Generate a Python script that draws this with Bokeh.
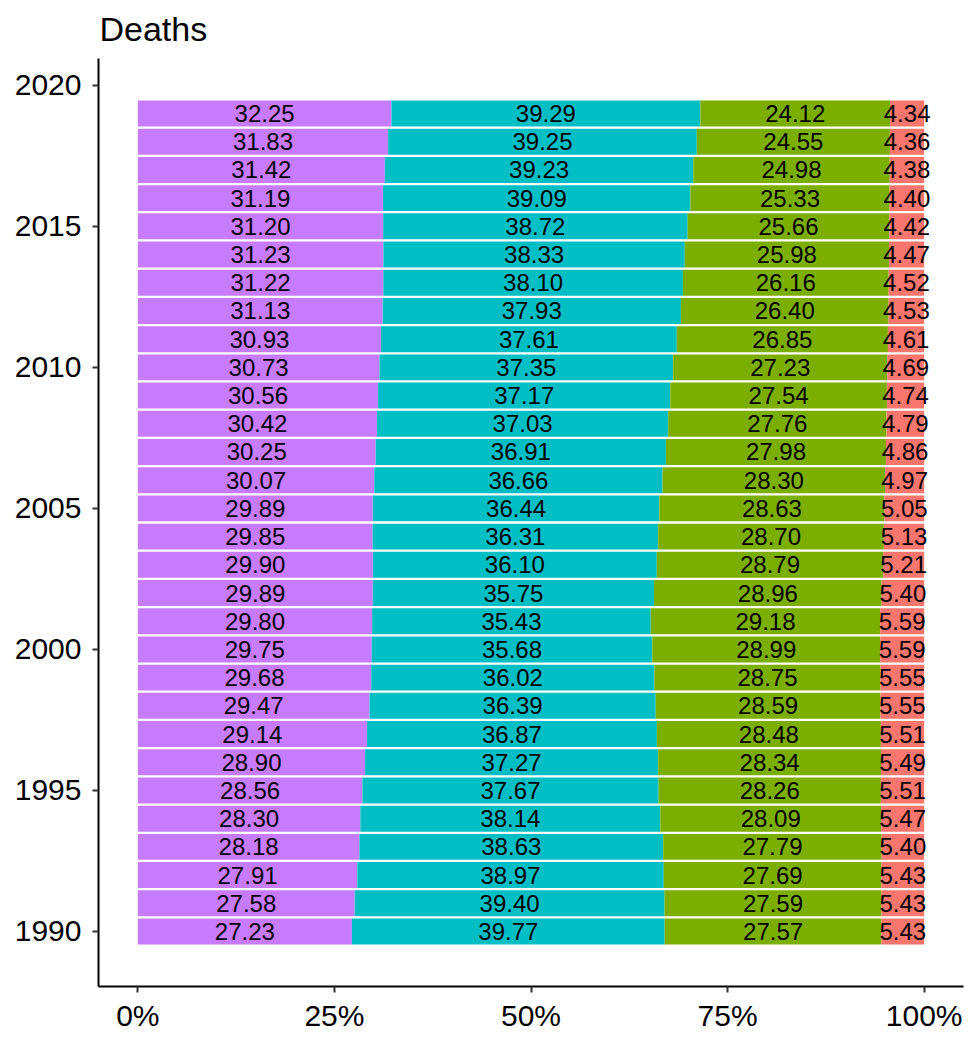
from bokeh.plotting import figure
from bokeh.models import ColumnDataSource, Range1d, FixedTicker
from bokeh.core.properties import value
from bokeh.embed import file_html
from bokeh.resources import INLINE

# ---- data (top bar = 2019, bottom bar = 1990) ----
years = [2019, 2018, 2017, 2016, 2015, 2014, 2013, 2012, 2011, 2010,
         2009, 2008, 2007, 2006, 2005, 2004, 2003, 2002, 2001, 2000,
         1999, 1998, 1997, 1996, 1995, 1994, 1993, 1992, 1991, 1990]

# leftmost segment (purple)
group4 = [32.25, 31.83, 31.42, 31.19, 31.20, 31.23, 31.22, 31.13, 30.93, 30.73,
          30.56, 30.42, 30.25, 30.07, 29.89, 29.85, 29.90, 29.89, 29.80, 29.75,
          29.68, 29.47, 29.14, 28.90, 28.56, 28.30, 28.18, 27.91, 27.58, 27.23]
# second segment (teal)
group3 = [39.29, 39.25, 39.23, 39.09, 38.72, 38.33, 38.10, 37.93, 37.61, 37.35,
          37.17, 37.03, 36.91, 36.66, 36.44, 36.31, 36.10, 35.75, 35.43, 35.68,
          36.02, 36.39, 36.87, 37.27, 37.67, 38.14, 38.63, 38.97, 39.40, 39.77]
# third segment (green)
group2 = [24.12, 24.55, 24.98, 25.33, 25.66, 25.98, 26.16, 26.40, 26.85, 27.23,
          27.54, 27.76, 27.98, 28.30, 28.63, 28.70, 28.79, 28.96, 29.18, 28.99,
          28.75, 28.59, 28.48, 28.34, 28.26, 28.09, 27.79, 27.69, 27.59, 27.57]
# rightmost segment (red)
group1 = [4.34, 4.36, 4.38, 4.40, 4.42, 4.47, 4.52, 4.53, 4.61, 4.69,
          4.74, 4.79, 4.86, 4.97, 5.05, 5.13, 5.21, 5.40, 5.59, 5.59,
          5.55, 5.55, 5.51, 5.49, 5.51, 5.47, 5.40, 5.43, 5.43, 5.43]

x_ticks = [0, 25, 50, 75, 100]
x_tick_labels = ["0%", "25%", "50%", "75%", "100%"]
y_ticks = [1990, 1995, 2000, 2005, 2010, 2015, 2020]
title_text = "Deaths"

series = [("group4", group4, "#C77CFF"),
          ("group3", group3, "#00BFC4"),
          ("group2", group2, "#7CAE00"),
          ("group1", group1, "#F8766D")]

# normalise to 100% (position = fill)
totals = [sum(v) for v in zip(group4, group3, group2, group1)]
data = {"year": years}
starts = [0.0] * len(years)
for name, vals, _ in series:
    share = [v / t * 100 for v, t in zip(vals, totals)]
    data[name + "_left"] = list(starts)
    data[name + "_right"] = [s + w for s, w in zip(starts, share)]
    data[name + "_mid"] = [s + w / 2 for s, w in zip(starts, share)]
    data[name + "_label"] = [f"{v:.2f}" for v in vals]
    starts = data[name + "_right"]
src = ColumnDataSource(data)

FONT = "Liberation Sans"

p = figure(width=966, height=1035,
           x_range=Range1d(-5, 105), y_range=Range1d(1988.05, 2020.95),
           output_backend="svg", toolbar_location=None,
           min_border_left=98, min_border_right=3,
           min_border_top=58, min_border_bottom=49)

for name, _, color in series:
    p.hbar(y="year", left=name + "_left", right=name + "_right", height=0.92,
           fill_color=color, line_color=None, source=src)

for name, _, _ in series:
    p.text(x=name + "_mid", y="year", text=name + "_label", source=src,
           text_align="center", text_baseline="middle",
           text_font=value(FONT), text_font_size="24px", text_color="black")

p.title.text = title_text
p.title.text_font = FONT
p.title.text_font_size = "34px"
p.title.text_font_style = "normal"
p.title.text_color = "black"
p.title.align = "left"
p.title.vertical_align = "top"
p.title.offset = 1
p.title.standoff = 18
p.title.text_line_height = 0.72

p.xaxis.ticker = FixedTicker(ticks=x_ticks)
p.xaxis.major_label_overrides = {t: l for t, l in zip(x_ticks, x_tick_labels)}
p.yaxis.ticker = FixedTicker(ticks=y_ticks)

for ax in (p.xaxis, p.yaxis):
    ax.axis_line_color = "black"
    ax.axis_line_width = 2
    ax.major_tick_line_color = "#333333"
    ax.major_tick_line_width = 2
    ax.major_tick_in = 0
    ax.major_tick_out = 6
    ax.minor_tick_line_color = None
    ax.major_label_text_font = FONT
    ax.major_label_text_font_size = "30px"
    ax.major_label_text_color = "black"
p.yaxis.major_label_standoff = 11
p.xaxis.major_label_standoff = 6

p.xgrid.grid_line_color = None
p.ygrid.grid_line_color = None
p.outline_line_color = None
p.background_fill_color = "white"
p.border_fill_color = "white"

open("out.html", "w").write(file_html(p, INLINE))
